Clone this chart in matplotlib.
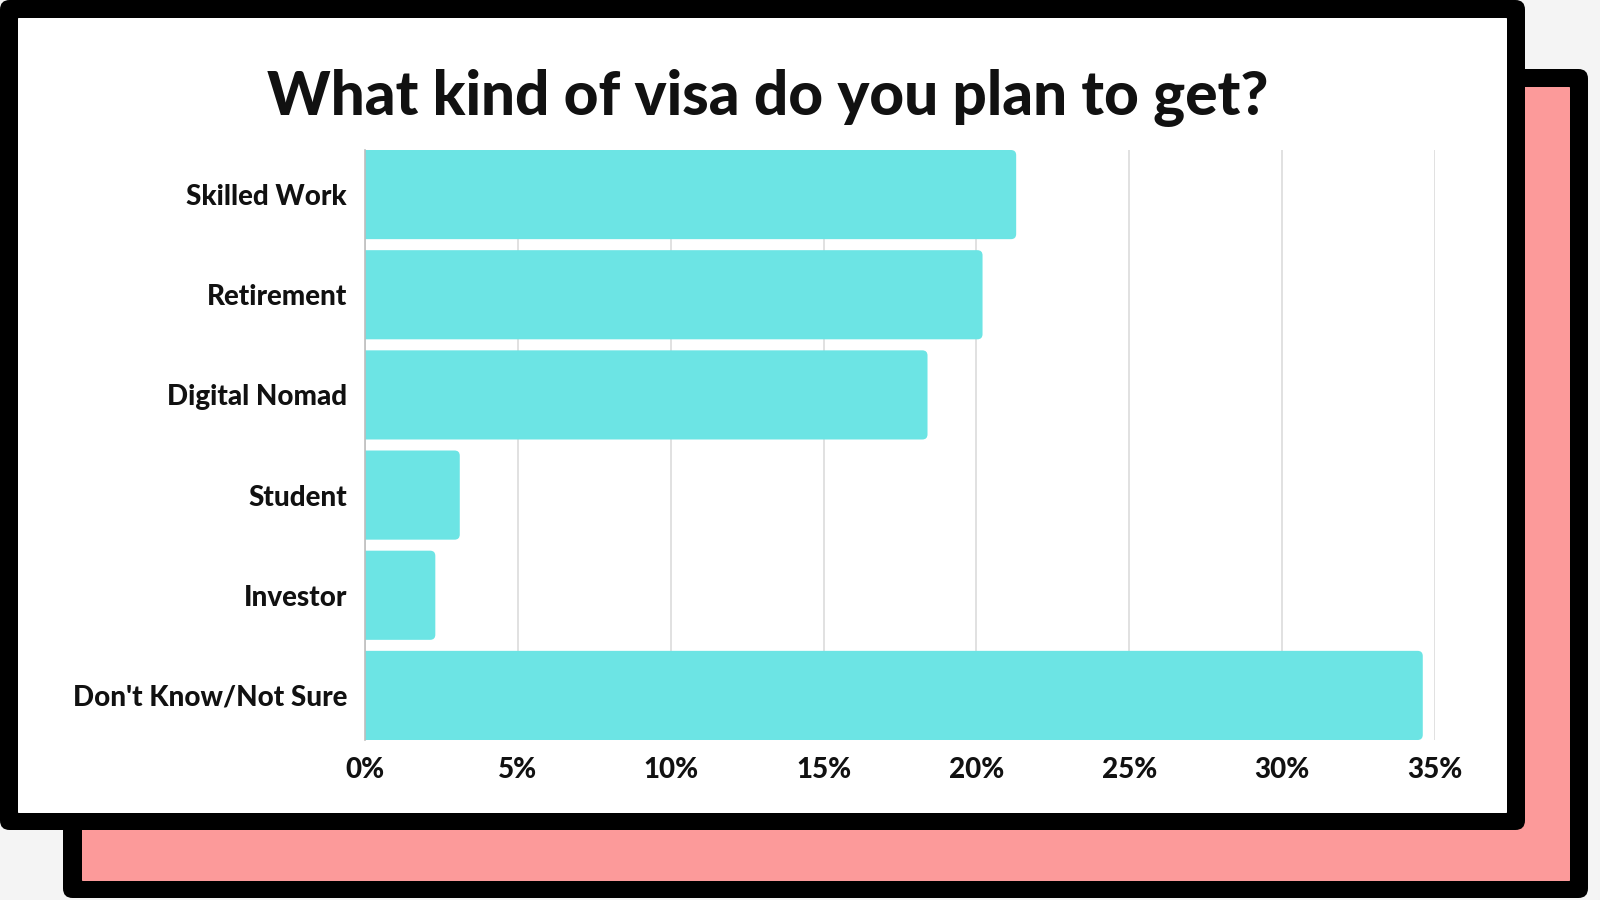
import matplotlib
matplotlib.use("Agg")
import matplotlib.pyplot as plt
from matplotlib.patches import FancyBboxPatch
from matplotlib.ticker import FuncFormatter

categories = ["Skilled Work", "Retirement", "Digital Nomad", "Student", "Investor", "Don't Know/Not Sure"]
values = [21.3, 20.2, 18.4, 3.1, 2.3, 34.6]
xticks = [0, 5, 10, 15, 20, 25, 30, 35]
title = "What kind of visa do you plan to get?"

W, H = 1600, 900
fig = plt.figure(figsize=(16, 9), dpi=100)
fig.patch.set_facecolor("#f4f4f4")

def card(x0, y0, x1, y1, face, z, r):
    p = FancyBboxPatch((x0 / W, 1 - y1 / H), (x1 - x0) / W, (y1 - y0) / H,
                       boxstyle=f"round,pad=0,rounding_size={r}",
                       mutation_aspect=W / H,
                       transform=fig.transFigure, facecolor=face,
                       edgecolor="none", zorder=z)
    fig.add_artist(p)

# back card (pink)
card(63, 69, 1588, 898, "#000000", 0, 0.006)
card(82, 87, 1570, 881, "#fc9a9a", 1, 0.0005)
# front card (white)
card(0, 0, 1525, 830, "#000000", 2, 0.006)
card(18, 18, 1507, 813, "#ffffff", 3, 0.0005)

ax = fig.add_axes([365 / W, 160 / H, (1435 - 365) / W, (740 - 150) / H], zorder=5)
ax.set_facecolor("none")
ypos = list(range(len(categories)))
bars = ax.barh(ypos, values, height=0.89, color="#6ce4e4", zorder=3)
# replace with right-rounded versions (left edge clipped at axis)
for b in bars:
    x0, y0, w, h = b.get_x(), b.get_y(), b.get_width(), b.get_height()
    rp = FancyBboxPatch((x0 - 0.4, y0), w + 0.4, h,
                        boxstyle="round,pad=0,rounding_size=0.17",
                        mutation_aspect=0.305,
                        facecolor="#6ce4e4", edgecolor="none", zorder=3)
    ax.add_patch(rp)
    b.set_visible(False)
ax.set_ylim(len(categories) - 1 + 0.445, -0.445)
ax.set_xlim(0, 35)
ax.set_xticks(xticks)
ax.xaxis.set_major_formatter(FuncFormatter(lambda v, p: f"{int(v)}%"))
ax.set_yticks(ypos)
ax.set_yticklabels(categories)
ax.grid(axis="x", color="#dcdcdc", linewidth=1.2, zorder=0)
ax.set_axisbelow(True)
for s in ["top", "right", "bottom"]:
    ax.spines[s].set_visible(False)
ax.spines["left"].set_color("#bdbdbd")
ax.spines["left"].set_linewidth(1.2)
ax.spines["left"].set_zorder(4)
ax.tick_params(axis="both", length=0, labelsize=20)
ax.tick_params(axis="y", pad=13)
ax.tick_params(axis="x", pad=12)
for lab in ax.get_xticklabels() + ax.get_yticklabels():
    lab.set_fontfamily("Lato")
    lab.set_fontweight("black")
    lab.set_color("#111111")
for lab in ax.get_yticklabels():
    lab.set_va("center_baseline")

fig.text(768 / W, 1 - 98 / H, title, ha="center", va="center",
         fontsize=43.4, fontweight="black", fontfamily="Lato", color="#111111", zorder=6)

fig.savefig("out.png", dpi=100, facecolor=fig.get_facecolor())
